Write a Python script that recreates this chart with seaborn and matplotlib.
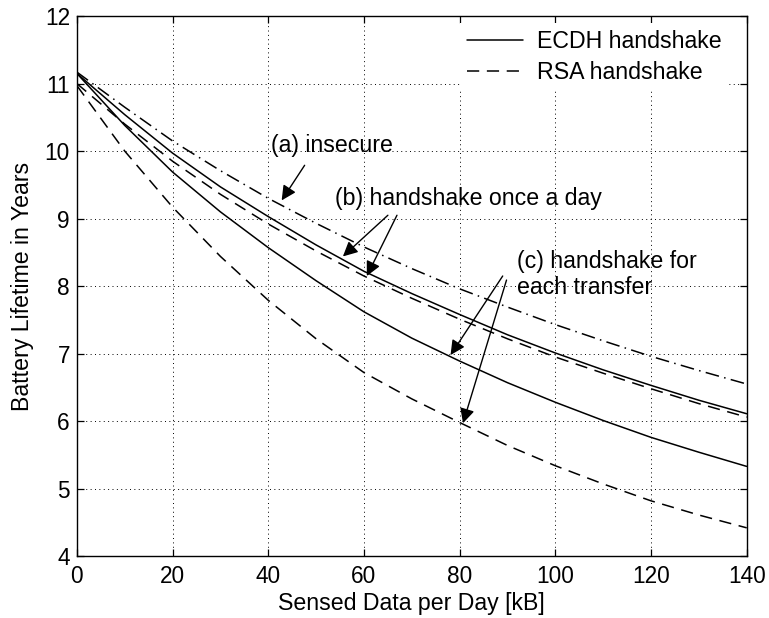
import numpy as np
import pandas as pd
import seaborn as sns
import matplotlib
matplotlib.use("Agg")
import matplotlib.pyplot as plt
from matplotlib.lines import Line2D

# ---- data ----
data_kb = [0, 10, 20, 30, 40, 50, 60, 70, 80, 90, 100, 110, 120, 130, 140]
insecure = [11.17, 10.65, 10.15, 9.71, 9.30, 8.93, 8.58, 8.26, 7.96, 7.69, 7.43, 7.19, 6.96, 6.75, 6.55]
ecdh_once = [11.15, 10.54, 9.97, 9.47, 9.03, 8.61, 8.22, 7.89, 7.58, 7.28, 7.01, 6.76, 6.53, 6.31, 6.11]
rsa_once = [11.00, 10.40, 9.85, 9.36, 8.92, 8.52, 8.15, 7.82, 7.51, 7.22, 6.95, 6.71, 6.48, 6.26, 6.06]
ecdh_each = [11.15, 10.38, 9.69, 9.10, 8.57, 8.08, 7.62, 7.23, 6.89, 6.57, 6.28, 6.01, 5.76, 5.54, 5.33]
rsa_each = [10.97, 10.00, 9.17, 8.44, 7.79, 7.22, 6.72, 6.33, 5.98, 5.64, 5.34, 5.07, 4.82, 4.61, 4.42]

x_ticks = [0, 20, 40, 60, 80, 100, 120, 140]
y_ticks = [4, 5, 6, 7, 8, 9, 10, 11, 12]
legend_labels = ["ECDH handshake", "RSA handshake"]

sns.set_theme(style="white")
plt.rcParams["font.family"] = ["Liberation Sans", "DejaVu Sans"]
plt.rcParams["font.size"] = 16
plt.rcParams["text.color"] = "black"
plt.rcParams["axes.labelcolor"] = "black"
plt.rcParams["xtick.color"] = "black"
plt.rcParams["ytick.color"] = "black"

TXT = 16.7

fig = plt.figure(figsize=(7.69, 6.18), dpi=100)
ax = fig.add_axes([0.100, 0.100, 0.871, 0.874])

dash = (0, (8, 5))
dashdot = (0, (9, 3.5, 1, 3.5))

curves = [
    (insecure, dashdot),
    (ecdh_once, "-"),
    (rsa_once, dash),
    (ecdh_each, "-"),
    (rsa_each, dash),
]
for vals, ls in curves:
    df = pd.DataFrame({"x": data_kb, "y": vals})
    sns.lineplot(data=df, x="x", y="y", ax=ax, color="black", linewidth=1.1,
                 linestyle=ls, legend=False)

ax.set_xlim(0, 140)
ax.set_ylim(4, 12)
ax.set_xticks(x_ticks)
ax.set_yticks(y_ticks)
ax.grid(True, color="black", linestyle=(0, (1, 3.5)), linewidth=0.7)
for s in ax.spines.values():
    s.set_color("black")
    s.set_linewidth(1.0)
ax.tick_params(direction="in", length=5, width=0.9, top=True, right=True,
               bottom=True, left=True, labelsize=16.3, colors="black")
ax.tick_params(axis="x", pad=6)
ax.tick_params(axis="y", pad=5)
ax.set_xlabel("Sensed Data per Day [kB]", fontsize=TXT, labelpad=3, color="black")
ax.set_ylabel("Battery Lifetime in Years", fontsize=TXT, labelpad=8, color="black")

handles = [Line2D([], [], color="black", lw=1.1, linestyle="-"),
           Line2D([], [], color="black", lw=1.1, linestyle=dash)]
leg = ax.legend(handles, legend_labels, loc="upper right", fontsize=TXT,
                frameon=True, fancybox=False, handlelength=2.4,
                handletextpad=0.6, labelspacing=0.32, borderpad=0.3,
                borderaxespad=0.15, bbox_to_anchor=(0.978, 0.993))
leg.get_frame().set_facecolor("white")
leg.get_frame().set_edgecolor("none")
leg.get_frame().set_alpha(1)
for t in leg.get_texts():
    t.set_color("black")

arrow = dict(arrowstyle="-|>", color="black", lw=1.0, mutation_scale=22,
             shrinkA=0, shrinkB=0)
# (a)
ax.text(40.6, 10.09, "(a) insecure", fontsize=TXT, va="center", ha="left", color="black")
ax.annotate("", xy=(42.8, 9.27), xytext=(47.6, 9.79), arrowprops=arrow)
# (b)
ax.text(53.9, 9.30, "(b) handshake once a day", fontsize=TXT, va="center", ha="left",
        color="black")
ax.annotate("", xy=(55.6, 8.44), xytext=(65.0, 9.05), arrowprops=arrow)
ax.annotate("", xy=(60.6, 8.15), xytext=(66.9, 9.05), arrowprops=arrow)
# (c)
ax.text(91.9, 8.17, "(c) handshake for\neach transfer", fontsize=TXT,
        va="center", ha="left", linespacing=1.2, color="black")
ax.annotate("", xy=(78.1, 6.98), xytext=(89.0, 8.15), arrowprops=arrow)
ax.annotate("", xy=(80.7, 5.97), xytext=(89.8, 8.09), arrowprops=arrow)

fig.savefig("out.png", dpi=100)
